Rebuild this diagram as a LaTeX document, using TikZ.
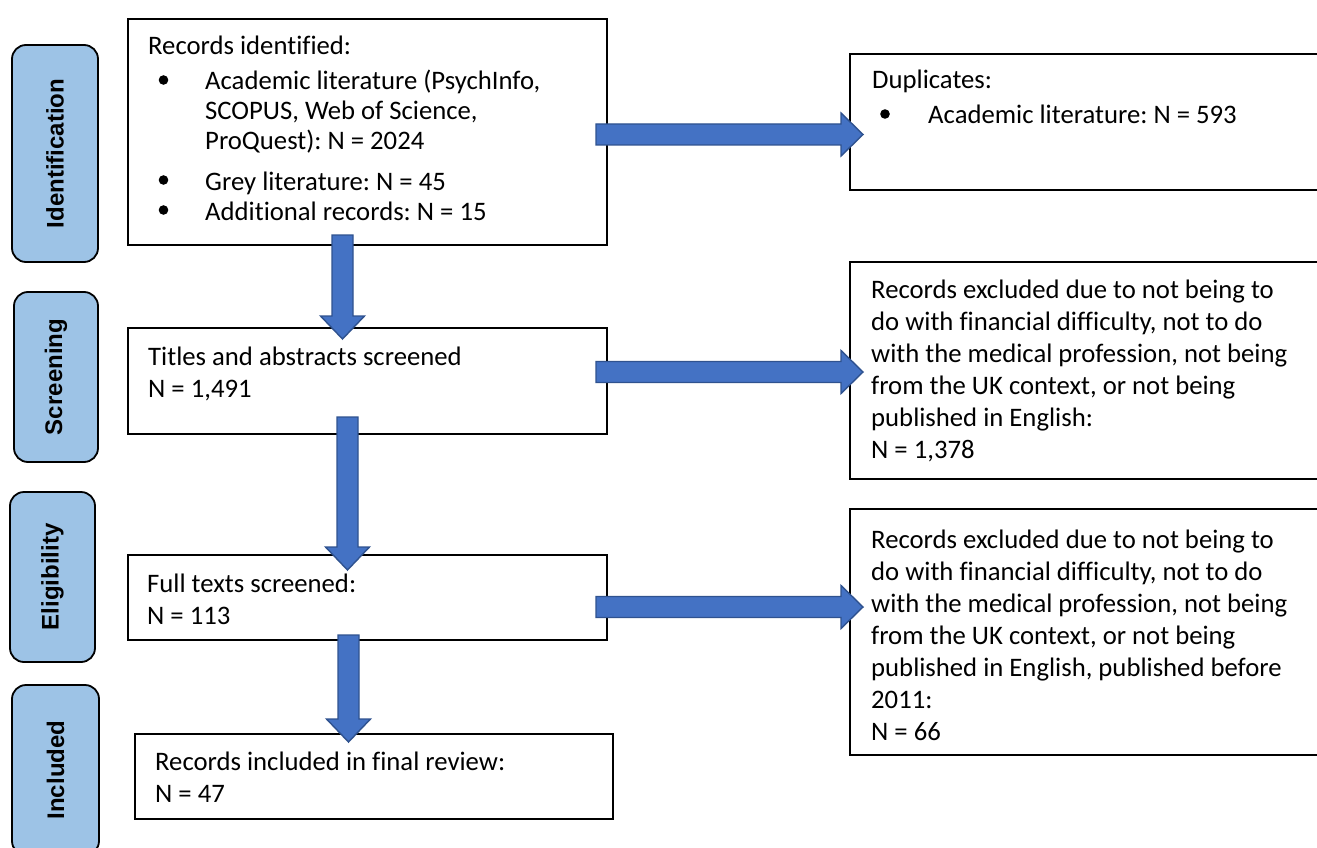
\documentclass[tikz,border=0pt]{standalone}
\usepackage{fontspec}
\setmainfont{Carlito}[Ligatures=NoCommon]
\newfontfamily\stagefont{Liberation Sans}
\usetikzlibrary{calc}
\frenchspacing

\definecolor{arrowblue}{HTML}{4472C4}
\definecolor{arrowedge}{HTML}{2F528F}
\definecolor{stageblue}{HTML}{9DC3E6}

\tikzset{
  x=1pt, y=-1pt,
  box/.style={draw=black, line width=1.6pt, fill=white, rectangle, inner sep=0pt, anchor=north west},
  stage/.style={draw=black, line width=1.8pt, fill=stageblue, rectangle, rounded corners=14pt,
    rotate=90, inner sep=0pt, font=\stagefont\bfseries\fontsize{24}{28}\selectfont},
  small/.style={inner sep=0pt, anchor=base west, font=\fontsize{26.7}{30}\selectfont},
  large/.style={inner sep=0pt, anchor=base west, font=\fontsize{26.7}{32.1}\selectfont},
  dot/.style={circle, fill=black, inner sep=0pt, minimum size=9.6pt},
  barrow/.style={fill=arrowblue, draw=arrowedge, line width=1.4pt, line join=miter}
}

% block arrows: start point (middle of the tail) and tip
\newcommand{\hblock}[2]{%
  \draw[barrow] ($(#1)+(0,-10.5)$) -- ($(#2)+(-22,-10.5)$) -- ($(#2)+(-22,-21.5)$) -- (#2)
    -- ($(#2)+(-22,21.5)$) -- ($(#2)+(-22,10.5)$) -- ($(#1)+(0,10.5)$) -- cycle;}
\newcommand{\vblock}[2]{%
  \draw[barrow] ($(#1)+(-10.5,0)$) -- ($(#2)+(-10.5,-23)$) -- ($(#2)+(-22,-23)$) -- (#2)
    -- ($(#2)+(22,-23)$) -- ($(#2)+(10.5,-23)$) -- ($(#1)+(10.5,0)$) -- cycle;}

\begin{document}
\begin{tikzpicture}
\useasboundingbox (0,0) rectangle (1317,848);
\clip (0,0) rectangle (1317,848);

% stage labels
\node[stage, minimum width=217pt, minimum height=86pt] (sIdent) at (55,153.5) {Identification};
\node[stage, minimum width=170pt, minimum height=84pt] (sScreen) at (56,377) {Screening};
\node[stage, minimum width=170pt, minimum height=85pt] (sElig) at (52.5,577) {Eligibility};
\node[stage, minimum width=170pt, minimum height=87pt] (sIncl) at (55.5,770) {Included};

% main column
\node[box, minimum width=479pt, minimum height=226pt] (ident) at (127,18) {};
\node[box, minimum width=479pt, minimum height=106pt] (titles) at (127,327) {};
\node[box, minimum width=479pt, minimum height=85pt] (full) at (127,554) {};
\node[box, minimum width=478pt, minimum height=85pt] (incl) at (134,733) {};

% exclusion column
\node[box, minimum width=500pt, minimum height=136pt] (dup) at (849,53) {};
\node[box, minimum width=500pt, minimum height=217pt] (excA) at (849,261) {};
\node[box, minimum width=500pt, minimum height=246pt] (excB) at (849,508) {};

% identification text
\node[small] (identHead) at (148,55) {Records identified:};
\node[dot] (bulA) at (163.5,80) {};
\node[small] (identA) at (205,90) {\parbox[t]{380pt}{Academic literature (PsychInfo,\\SCOPUS, Web of Science,\\ProQuest): N = 2024}};
\node[dot] (bulB) at (163.5,180) {};
\node[small] (identB) at (205,190) {Grey literature: N = 45};
\node[dot] (bulC) at (163.5,210) {};
\node[small] (identC) at (205,220) {Additional records: N = 15};

\node[large] (titlesTxt) at (148,365) {\parbox[t]{440pt}{Titles and abstracts screened\\N = 1,491}};
\node[large] (fullTxt) at (147,592) {\parbox[t]{440pt}{Full texts screened:\\N = 113}};
\node[large] (inclTxt) at (155,770) {\parbox[t]{440pt}{Records included in final review:\\N = 47}};

% exclusion text
\node[small] (dupHead) at (872,89) {Duplicates:};
\node[dot] (bulD) at (885,114) {};
\node[small] (dupA) at (928,124) {Academic literature: N = 593};

\node[large] (excATxt) at (871,298) {\parbox[t]{440pt}{Records excluded due to not being to\\do with financial difficulty, not to do\\with the medical profession, not being\\from the UK context, or not being\\published in English:\\N = 1,378}};
\node[large] (excBTxt) at (871,548) {\parbox[t]{440pt}{Records excluded due to not being to\\do with financial difficulty, not to do\\with the medical profession, not being\\from the UK context, or not being\\published in English, published before\\2011:\\N = 66}};

% flow arrows
\coordinate (h1s) at (596,134.5);  \coordinate (h1e) at (863,134.5);
\coordinate (h2s) at (596,372);    \coordinate (h2e) at (863,372);
\coordinate (h3s) at (596,607);    \coordinate (h3e) at (863,607);
\coordinate (v1s) at (342.5,235);  \coordinate (v1e) at (342.5,339);
\coordinate (v2s) at (347.5,417);  \coordinate (v2e) at (347.5,570);
\coordinate (v3s) at (348.5,635);  \coordinate (v3e) at (348.5,742);

\hblock{h1s}{h1e}
\hblock{h2s}{h2e}
\hblock{h3s}{h3e}
\vblock{v1s}{v1e}
\vblock{v2s}{v2e}
\vblock{v3s}{v3e}
\end{tikzpicture}
\end{document}
